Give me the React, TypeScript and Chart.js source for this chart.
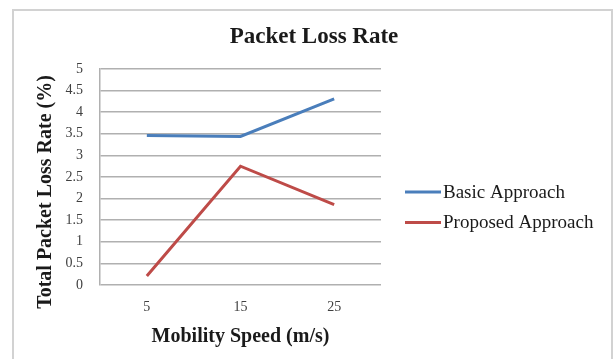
import React, { useEffect, useRef } from "react";
import { Chart, registerables } from "chart.js";

Chart.register(...registerables);

const titleText = "Packet Loss Rate";
const xAxisTitle = "Mobility Speed (m/s)";
const yAxisTitle = "Total Packet Loss Rate (%)";
const categories = ["5", "15", "25"];
const seriesNames = ["Basic Approach", "Proposed Approach"];
const basicValues = [3.46, 3.44, 4.31];
const proposedValues = [0.21, 2.75, 1.86];
const seriesColors = ["#4a7ebb", "#be4b48"];
const yMin = 0;
const yMax = 5;
const yStep = 0.5;

const SERIF = "'Liberation Serif', 'Times New Roman', serif";

const framePlugin = {
  id: "frame",
  beforeDraw(chart: any) {
    const ctx = chart.ctx;
    ctx.save();
    ctx.fillStyle = "#ffffff";
    ctx.fillRect(0, 0, chart.width, chart.height);
    ctx.strokeStyle = "#d2d2d2";
    ctx.lineWidth = 2;
    ctx.strokeRect(13, 10, 599, 400);
    ctx.restore();
  },
};

const extrasPlugin = {
  id: "extras",
  afterDraw(chart: any) {
    const ctx = chart.ctx;
    const area = chart.chartArea;
    ctx.save();
    // y axis title
    ctx.translate(area.left - 54, (area.top + area.bottom) / 2 + 15);
    ctx.rotate(-Math.PI / 2);
    ctx.font = `bold 20px ${SERIF}`;
    ctx.fillStyle = "#1a1a1a";
    ctx.textAlign = "center";
    ctx.textBaseline = "middle";
    ctx.fillText(yAxisTitle, 0, 0);
    ctx.restore();

    // legend
    ctx.save();
    ctx.font = `19px ${SERIF}`;
    ctx.textBaseline = "middle";
    ctx.textAlign = "left";
    chart.data.datasets.forEach((ds: any, i: number) => {
      const y = 192 + i * 30.5;
      const x0 = area.right + 24;
      ctx.strokeStyle = ds.borderColor;
      ctx.lineWidth = 3;
      ctx.beginPath();
      ctx.moveTo(x0, y);
      ctx.lineTo(x0 + 36, y);
      ctx.stroke();
      ctx.fillStyle = "#1a1a1a";
      ctx.fillText(ds.label, x0 + 38, y + 1);
    });
    ctx.restore();
  },
};

export default function App() {
  const ref = useRef<HTMLCanvasElement | null>(null);
  useEffect(() => {
    if (!ref.current) return;
    const chart = new Chart(ref.current, {
      type: "line",
      data: {
        labels: categories,
        datasets: [
          {
            label: seriesNames[0],
            data: basicValues,
            borderColor: seriesColors[0],
            backgroundColor: seriesColors[0],
            borderWidth: 3,
            pointRadius: 0,
            tension: 0,
          },
          {
            label: seriesNames[1],
            data: proposedValues,
            borderColor: seriesColors[1],
            backgroundColor: seriesColors[1],
            borderWidth: 3,
            pointRadius: 0,
            tension: 0,
          },
        ],
      },
      options: {
        animation: false,
        responsive: false,
        devicePixelRatio: 1,
        layout: { padding: { left: 12, right: 0, top: 0, bottom: 10 } },
        plugins: {
          legend: { display: false },
          tooltip: { enabled: false },
          title: {
            display: true,
            text: titleText,
            color: "#1a1a1a",
            font: { family: SERIF, size: 23, weight: "bold" },
            padding: { top: 23, bottom: 18.4 },
          },
        },
        scales: {
          x: {
            type: "category",
            offset: true,
            grid: { display: false, drawTicks: false },
            border: { display: false },
            ticks: {
              color: "#404040",
              font: { family: SERIF, size: 14 },
              padding: 14,
              maxRotation: 0,
            },
            title: {
              display: true,
              text: xAxisTitle,
              color: "#1a1a1a",
              font: { family: SERIF, size: 20, weight: "bold" },
              padding: { top: 0, bottom: 0 },
            },
            afterFit(scale: any) {
              scale.height = 64;
            },
          },
          y: {
            type: "linear",
            position: "left",
            min: yMin,
            max: yMax,
            ticks: {
              stepSize: yStep,
              color: "#404040",
              font: { family: SERIF, size: 14 },
              padding: 17,
              callback: (v: any) => String(Number(v)),
            },
            grid: { color: "#b0b0b0", lineWidth: 1.5, drawTicks: false },
            border: { display: true, color: "#b0b0b0", width: 1.5 },
            afterFit(scale: any) {
              scale.width = 88;
            },
          },
          spacer: {
            type: "linear",
            position: "right",
            display: true,
            grid: { display: false, drawTicks: false },
            border: { display: false },
            ticks: { display: false },
            afterFit(scale: any) {
              scale.width = 235;
            },
          },
        },
      },
      plugins: [framePlugin, extrasPlugin],
    } as any);
    return () => chart.destroy();
  }, []);
  return (
    <div style={{ position: "absolute", left: 0, top: 0, width: 616, height: 359 }}>
      <canvas ref={ref} width={616} height={359} />
    </div>
  );
}
